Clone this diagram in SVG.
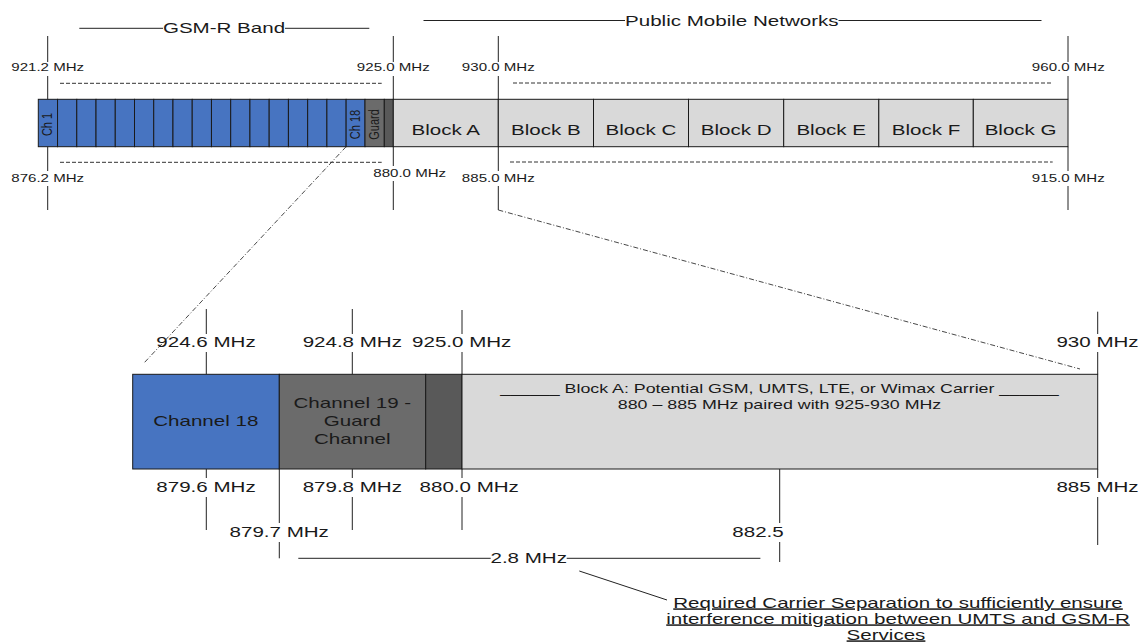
<svg xmlns="http://www.w3.org/2000/svg" width="1141" height="644" viewBox="0 0 1141 644">
<style>
text{font-family:"Liberation Sans",Arial,sans-serif;fill:#1a1a1a;text-anchor:middle}
.s11{font-size:11px}.s13{font-size:13px}.s15{font-size:15px}
.ln{stroke:#222;stroke-width:1;fill:none}
.dash{stroke:#333;stroke-width:1;stroke-dasharray:4 2;fill:none}
.dd{stroke:#333;stroke-width:0.9;stroke-dasharray:5 2 1 2;fill:none}
.blue{fill:#4774c1;stroke:#1a1a1a;stroke-width:1}
.guard{fill:#6b6b6b;stroke:#1a1a1a;stroke-width:1}
.dark{fill:#595959;stroke:#1a1a1a;stroke-width:1}
.blk{fill:#d9d9d9;stroke:#1a1a1a;stroke-width:1}
</style>
<rect width="1141" height="644" fill="#fff"/>
<g id="titles">
<path class="ln" d="M79.3 28.3H163M285 28.3H369.3M423.5 20.5H625M838.5 20.5H1041.5"/>
<text class="s15" transform="translate(224,32.8) scale(1.37,1)">GSM-R Band</text>
<text class="s15" transform="translate(731.8,25.8) scale(1.37,1)">Public Mobile Networks</text>
</g>
<g id="top-bar">
<g id="gsmr-channels">
<rect class="blue" x="38.3" y="99.3" width="19.24" height="47.4"/>
<rect class="blue" x="57.54" y="99.3" width="19.24" height="47.4"/>
<rect class="blue" x="76.78" y="99.3" width="19.24" height="47.4"/>
<rect class="blue" x="96.02" y="99.3" width="19.24" height="47.4"/>
<rect class="blue" x="115.26" y="99.3" width="19.24" height="47.4"/>
<rect class="blue" x="134.5" y="99.3" width="19.24" height="47.4"/>
<rect class="blue" x="153.74" y="99.3" width="19.24" height="47.4"/>
<rect class="blue" x="172.98" y="99.3" width="19.24" height="47.4"/>
<rect class="blue" x="192.22" y="99.3" width="19.24" height="47.4"/>
<rect class="blue" x="211.46" y="99.3" width="19.24" height="47.4"/>
<rect class="blue" x="230.7" y="99.3" width="19.24" height="47.4"/>
<rect class="blue" x="249.94" y="99.3" width="19.24" height="47.4"/>
<rect class="blue" x="269.18" y="99.3" width="19.24" height="47.4"/>
<rect class="blue" x="288.42" y="99.3" width="19.24" height="47.4"/>
<rect class="blue" x="307.66" y="99.3" width="19.24" height="47.4"/>
<rect class="blue" x="326.9" y="99.3" width="19.24" height="47.4"/>
<rect class="blue" x="346.14" y="99.3" width="18.86" height="47.4"/>
<rect class="guard" x="365" y="99.3" width="19.3" height="47.4"/>
<rect class="dark" x="384.3" y="99.3" width="9" height="47.4"/>
<text class="s11" transform="translate(52.2,124.5) scale(1.37,1) rotate(-90)">Ch 1</text>
<text class="s11" transform="translate(359.5,124.5) scale(1.37,1) rotate(-90)">Ch 18</text>
<text class="s11" transform="translate(378.5,124.5) scale(1.37,1) rotate(-90)">Guard</text>
</g>
<g id="blocks">
<rect class="blk" x="393.3" y="99.3" width="105" height="47.4"/>
<rect class="blk" x="498.3" y="99.3" width="95.2" height="47.4"/>
<rect class="blk" x="593.5" y="99.3" width="95" height="47.4"/>
<rect class="blk" x="688.5" y="99.3" width="95.2" height="47.4"/>
<rect class="blk" x="783.7" y="99.3" width="95.1" height="47.4"/>
<rect class="blk" x="878.8" y="99.3" width="94.5" height="47.4"/>
<rect class="blk" x="973.3" y="99.3" width="94.7" height="47.4"/>
<text class="s15" transform="translate(445.8,135) scale(1.37,1)">Block A</text>
<text class="s15" transform="translate(545.9,135) scale(1.37,1)">Block B</text>
<text class="s15" transform="translate(641,135) scale(1.37,1)">Block C</text>
<text class="s15" transform="translate(736.1,135) scale(1.37,1)">Block D</text>
<text class="s15" transform="translate(831.2,135) scale(1.37,1)">Block E</text>
<text class="s15" transform="translate(926,135) scale(1.37,1)">Block F</text>
<text class="s15" transform="translate(1020.6,135) scale(1.37,1)">Block G</text>
</g>
<g id="top-scale">
<path class="ln" d="M47.7 36V62M47.7 76V99.3M47.7 146.7V171M47.7 186V210"/>
<path class="ln" d="M393.3 36V62M393.3 76V99.3M393.3 146.7V166M393.3 181V210"/>
<path class="ln" d="M498.3 36V62M498.3 76V99.3M498.3 146.7V171M498.3 186V210"/>
<path class="ln" d="M1068 36V62M1068 76V99.3M1068 146.7V171M1068 186V210"/>
<path class="dash" d="M60 83.3H381.7M513 83H1052.7M60 162.3H381.7M510 162H1052.7"/>
<text class="s11" transform="translate(47.7,71) scale(1.37,1)">921.2 MHz</text>
<text class="s11" transform="translate(393.3,71) scale(1.37,1)">925.0 MHz</text>
<text class="s11" transform="translate(498.3,71) scale(1.37,1)">930.0 MHz</text>
<text class="s11" transform="translate(1068.3,71) scale(1.37,1)">960.0 MHz</text>
<text class="s11" transform="translate(47.7,182) scale(1.37,1)">876.2 MHz</text>
<text class="s11" transform="translate(409.7,176.8) scale(1.37,1)">880.0 MHz</text>
<text class="s11" transform="translate(498.3,182) scale(1.37,1)">885.0 MHz</text>
<text class="s11" transform="translate(1068.3,182) scale(1.37,1)">915.0 MHz</text>
</g>
</g>
<g id="connectors">
<path class="dd" d="M346.1 146.7L144 363"/>
<path class="dd" d="M498.3 210L1080 369"/>
<path class="ln" d="M298.3 558.3H490.7M566.7 558.3H760.4"/>
<path class="ln" d="M579.3 571L667 600"/>
</g>
<g id="detail-bar">
<rect class="blue" x="132.7" y="374.3" width="146.6" height="94.7"/>
<rect class="guard" x="279.3" y="374.3" width="146.4" height="94.7"/>
<rect class="dark" x="425.7" y="374.3" width="36.3" height="94.7"/>
<rect class="blk" x="462" y="374.3" width="635.7" height="94.7"/>
<text class="s15" transform="translate(205.8,426) scale(1.37,1)">Channel 18</text>
<text class="s15" transform="translate(352.3,408.3) scale(1.37,1)">Channel 19 -</text>
<text class="s15" transform="translate(352.3,426) scale(1.37,1)">Guard</text>
<text class="s15" transform="translate(352.3,444) scale(1.37,1)">Channel</text>
<text class="s13" transform="translate(779.5,393) scale(1.37,1)">______ Block A: Potential GSM, UMTS, LTE, or Wimax Carrier ______</text>
<text class="s13" transform="translate(779.5,409) scale(1.37,1)">880 – 885 MHz paired with 925-930 MHz</text>
</g>
<g id="detail-scale">
<path class="ln" d="M206.3 309V334M206.3 352V374.3M206.3 469V478M206.3 497V530"/>
<path class="ln" d="M352.3 309V334M352.3 352V374.3M352.3 469V478M352.3 497V530"/>
<path class="ln" d="M462 310V334M462 352V374.3M462 469V478M462 497V530"/>
<path class="ln" d="M1097.7 311.7V334M1097.7 352V374.3M1097.7 469V478M1097.7 497V545"/>
<path class="ln" d="M279.3 469V523M279.3 542V558.3"/>
<path class="ln" d="M779.7 469V523M779.7 542V562"/>
<text class="s15" transform="translate(206,346.7) scale(1.37,1)">924.6 MHz</text>
<text class="s15" transform="translate(352.3,346.7) scale(1.37,1)">924.8 MHz</text>
<text class="s15" transform="translate(461.7,346.7) scale(1.37,1)">925.0 MHz</text>
<text class="s15" transform="translate(1097.5,346.7) scale(1.37,1)">930 MHz</text>
<text class="s15" transform="translate(206,491.7) scale(1.37,1)">879.6 MHz</text>
<text class="s15" transform="translate(352.3,491.7) scale(1.37,1)">879.8 MHz</text>
<text class="s15" transform="translate(469.2,491.7) scale(1.37,1)">880.0 MHz</text>
<text class="s15" transform="translate(1097.5,491.7) scale(1.37,1)">885 MHz</text>
<text class="s15" transform="translate(279.2,536.7) scale(1.37,1)">879.7 MHz</text>
<text class="s15" transform="translate(758,536.7) scale(1.37,1)">882.5</text>
<text class="s15" transform="translate(528.7,562.5) scale(1.37,1)">2.8 MHz</text>
</g>
<g id="note">
<text class="s15" text-decoration="underline" transform="translate(898,607.5) scale(1.37,1)">Required Carrier Separation to sufficiently ensure</text>
<text class="s15" text-decoration="underline" transform="translate(898,623.5) scale(1.37,1)">interference mitigation between UMTS and GSM-R</text>
<text class="s15" text-decoration="underline" transform="translate(886,639.5) scale(1.37,1)">Services</text>
</g>
</svg>
